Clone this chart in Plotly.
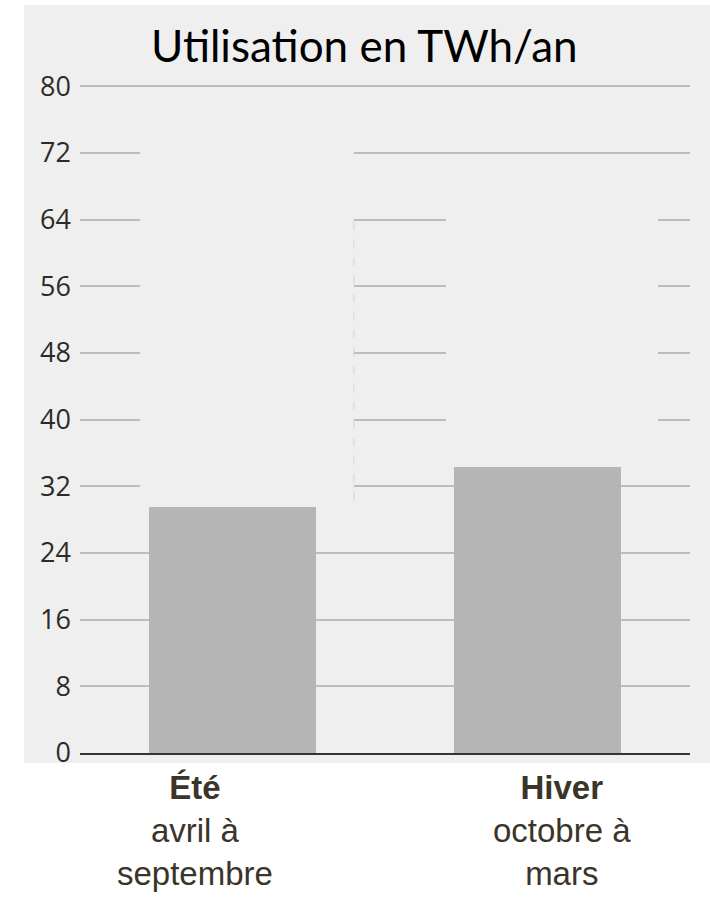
import plotly.graph_objects as go

# ---- data ----
categories = ["Été", "Hiver"]
subtitles = ["avril à<br>septembre", "octobre à<br>mars"]
values = [29.5, 34.3]
tick_vals = [0, 8, 16, 24, 32, 40, 48, 56, 64, 72, 80]
tick_text = [str(v) for v in tick_vals]
title_text = "Utilisation en TWh/an"

PANEL = "#efefef"
GRID = "#bdbdbd"
BAR = "#b5b5b5"
TXT = "#3a3528"

x_idx = list(range(len(categories)))

fig = go.Figure()
fig.add_trace(go.Bar(
    x=x_idx, y=values, width=0.545,
    marker=dict(color=BAR, line=dict(width=0)),
    hoverinfo="skip",
))

shapes = [
    # grey panel behind the whole chart
    dict(type="rect", xref="paper", yref="paper", x0=-0.0918, x1=1.04, y0=-0.0148, y1=1.108,
         fillcolor=PANEL, line=dict(width=0), layer="below"),
    # patches that hide parts of the grid (between grid and bars)
    dict(type="rect", xref="x", yref="y", x0=-0.303, x1=0.398, y0=27.5, y1=76,
         fillcolor=PANEL, line=dict(width=0), layer="between"),
    dict(type="rect", xref="x", yref="y", x0=0.70, x1=1.395, y0=36, y1=68,
         fillcolor=PANEL, line=dict(width=0), layer="between"),
    # faint dashed seam
    dict(type="line", xref="x", yref="y", x0=0.398, x1=0.398, y0=30.3, y1=64.4,
         line=dict(color="#d4d4d4", width=1, dash="dash"), layer="between"),
]

annotations = [
    dict(text=title_text, xref="paper", yref="paper", x=(364 - 80) / 610, y=(753 - 45) / 675,
         xanchor="center", yanchor="middle", showarrow=False,
         font=dict(family="Lato, Carlito, sans-serif", size=44, color="#000000")),
]
label_offsets = [-0.123, 0.08]
for i, (c, s) in enumerate(zip(categories, subtitles)):
    annotations.append(dict(
        text=f"<b>{c}</b><br>{s}", xref="x", yref="paper", x=x_idx[i] + label_offsets[i],
        y=-0.02, xanchor="center", yanchor="top", showarrow=False, align="center",
        font=dict(family="Liberation Sans, Arial, sans-serif", size=33, color=TXT),
    ))

fig.update_layout(
    width=710, height=897,
    margin=dict(l=80, r=20, t=78, b=144),
    paper_bgcolor="white",
    plot_bgcolor="rgba(0,0,0,0)",
    showlegend=False,
    bargap=0,
    shapes=shapes,
    annotations=annotations,
    xaxis=dict(range=[-0.5, 1.5], showticklabels=False, showgrid=False, zeroline=False,
               showline=True, linecolor="#38352e", linewidth=2, ticks="", fixedrange=True),
    yaxis=dict(range=[0, 81], tickvals=tick_vals, ticktext=tick_text, showgrid=True,
               gridcolor=GRID, gridwidth=2, zeroline=False, showline=False, ticks="",
               ticklabelstandoff=8,
               tickfont=dict(family="Open Sans, sans-serif", size=27, color="#2e2b27"),
               fixedrange=True),
)

fig.write_html("out.html")
